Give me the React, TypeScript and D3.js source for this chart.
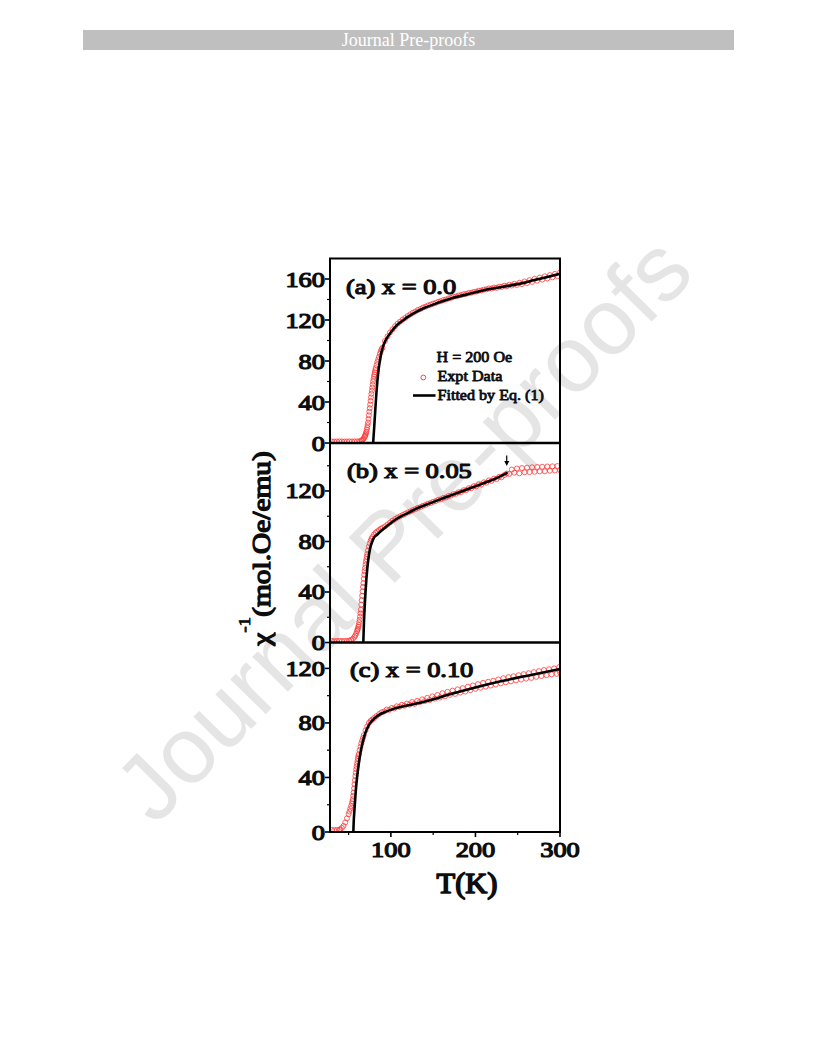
import React from 'react';
import * as d3 from 'd3';

// ---------- data ----------
const xTicks = [100, 200, 300];
const xMinorTicks = [50, 150, 250];
const yTicksA = [0, 40, 80, 120, 160];
const yMinorA = [20, 60, 100, 140];
const yTicksB = [0, 40, 80, 120];
const yMinorB = [20, 60, 100, 140];
const yTicksC = [0, 40, 80, 120];
const yMinorC = [20, 60, 100];
const panelLabels = ['(a) x = 0.0', '(b) x = 0.05', '(c) x = 0.10'];
const legendLabels = ['H = 200 Oe', 'Expt Data', 'Fitted by Eq. (1)'];

// (a) x = 0.0  [T, chi^-1]
const aData: [number, number][] = [
  [30, 1.5], [33, 1.4], [36, 1.5], [39, 1.6], [42, 1.5], [45, 1.4], [48, 1.5], [51, 1.6], [54, 1.5], [57, 1.5],
  [60, 1.6], [63, 1.8], [65, 2.2], [66, 2.8], [67, 3.5], [68, 4.5], [69, 6], [69.5, 7], [70, 8], [70.5, 9.5],
  [71, 11], [71.5, 13], [72, 15], [72.5, 17.5], [73, 20], [73.5, 23.5], [74, 27], [74.5, 30.5], [75, 34], [75.5, 37.5],
  [76, 41], [76.5, 44.5], [77, 48], [77.5, 51], [78, 54], [78.5, 57], [79, 60], [79.5, 62.5], [80, 65], [80.5, 67],
  [81, 69], [81.5, 71], [82, 73], [83, 76], [84, 79], [85, 81.5], [86, 84], [87, 87], [88, 89.5], [89, 91.5],
  [90, 93], [93, 99.5], [96, 104], [99, 107.8], [102, 111], [105, 114], [108, 116.5], [111, 118.5], [114, 120.5], [117, 122],
  [120, 124], [123, 125.5], [126, 127], [129, 128.3], [132, 129.8], [135, 130.8], [138, 132.2], [141, 133], [144, 134.2], [147, 135],
  [150, 136], [153, 136.7], [156, 137.8], [159, 138.4], [162, 139.4], [165, 140], [168, 141], [171, 141.6], [174, 142.6], [177, 143],
  [180, 143.9], [183, 144.3], [186, 145.1], [189, 145.5], [192, 146.3], [195, 146.6], [198, 147.4], [201, 147.7], [204, 148.6], [207, 148.8],
  [210, 149.7], [213, 149.9], [216, 150.8], [219, 150.7], [222, 151.6], [225, 151.4], [228, 152.5], [231, 152.2], [234, 153.5], [237, 152.9],
  [240, 154.4], [243, 153.6], [246, 155.3], [249, 154.2], [252, 156.4], [255, 155], [258, 157.6], [261, 156], [264, 158.9], [267, 157.2],
  [270, 160.2], [273, 158.3], [276, 161.4], [279, 159.4], [282, 162.6], [285, 160.5], [288, 163.8], [291, 161.6], [294, 165], [297, 162.8],
  [300, 166.4],
];
const aFit: [number, number][] = [
  [79, 0], [80, 12], [81, 25], [82, 38], [83, 50], [84, 60], [85, 68], [86, 75], [87, 80], [88, 85],
  [89, 89], [90, 92], [92, 97], [95, 102], [100, 108], [105, 113], [110, 117], [115, 120], [120, 123], [130, 128],
  [140, 132], [150, 135], [160, 138], [175, 142], [190, 145], [200, 147], [215, 150], [230, 152], [250, 155], [270, 159],
  [285, 162], [300, 165],
];

// (b) x = 0.05
const bData: [number, number][] = [
  [30, 1.2], [33, 1.1], [36, 1.2], [39, 1.3], [42, 1.2], [45, 1.2], [48, 1.3], [51, 1.5], [53, 2], [55, 3],
  [57, 4.5], [58, 5.5], [59, 7], [60, 9], [60.5, 10], [61, 11], [61.5, 12.5], [62, 14], [62.5, 16], [63, 18],
  [63.5, 20.5], [64, 23], [64.5, 26], [65, 30], [65.5, 33.5], [66, 37], [66.5, 40.5], [67, 44], [67.5, 47], [68, 50.5],
  [68.5, 53.5], [69, 56.5], [69.5, 59], [70, 61.5], [70.5, 64], [71, 66], [71.5, 68], [72, 70], [73, 73], [74, 76],
  [75, 78.5], [76, 80.5], [77, 82], [78, 83.5], [80, 85.5], [82, 87], [84, 88], [86, 89], [88, 90], [90, 90.8],
  [93, 92], [96, 93.5], [99, 95], [102, 96.5], [105, 97.8], [108, 99], [111, 100], [114, 101], [117, 102], [120, 103],
  [123, 103.8], [126, 104.8], [129, 105.6], [132, 106.6], [135, 107.3], [138, 108.3], [141, 109], [144, 110], [147, 110.5], [150, 111.5],
  [153, 112], [156, 113], [159, 113.4], [162, 114.5], [165, 114.8], [168, 116], [171, 116.3], [174, 117.5], [177, 117.8], [180, 119],
  [183, 119.2], [186, 120.6], [189, 120.7], [192, 122.2], [195, 122.2], [198, 123.8], [201, 123.7], [204, 125.4], [207, 125.1], [210, 126.9],
  [213, 126.6], [216, 128.4], [219, 128], [222, 129.8], [225, 129.4], [228, 131.2], [231, 130.9], [234, 132.6], [237, 133.8], [240, 133.5],
  [243, 137], [246, 134.5], [249, 137.8], [252, 134], [255, 138.2], [258, 134.8], [261, 138.5], [264, 135], [267, 138.8], [270, 135.2],
  [273, 139], [276, 135.5], [279, 139.2], [282, 135.6], [285, 139.4], [288, 136], [291, 139.5], [294, 136.2], [297, 139.8], [300, 136.5],
];
const bFit: [number, number][] = [
  [67.4, 0], [68, 13], [69, 28], [70, 40], [71, 50], [72, 58], [73, 64], [74, 69], [75, 73], [76, 76],
  [78, 80], [80, 83], [84, 85.5], [87, 87.5], [95, 92], [107, 98], [120, 102.5], [130, 106], [145, 110], [165, 115],
  [185, 120], [209, 126], [225, 130.2], [238, 134.5],
];
const bArrowT = 237;

// (c) x = 0.10
const cData: [number, number][] = [
  [30, 1.5], [33, 1.4], [36, 1.5], [39, 1.6], [40, 2], [42, 3], [44, 4.5], [46, 7], [48, 10], [50, 13],
  [51, 15], [52, 17], [53, 19], [54, 21], [54.5, 22.5], [55, 24], [55.5, 26.5], [56, 29], [56.5, 32], [57, 35],
  [57.5, 38], [58, 41], [58.5, 43.5], [59, 46], [59.5, 48], [60, 50], [60.5, 52], [61, 54], [61.5, 55.5], [62, 57],
  [63, 60], [64, 62.5], [65, 65], [66, 67], [67, 69], [68, 71], [70, 74.5], [72, 77.5], [74, 80], [76, 81.5],
  [78, 82.5], [80, 83.5], [83, 85], [86, 86.5], [89, 87.8], [92, 88.4], [95, 89.8], [98, 89.6], [101, 91], [104, 90.6],
  [107, 92.2], [110, 91.8], [113, 93.3], [116, 92.6], [119, 94.2], [122, 93.4], [125, 95.3], [128, 94], [131, 96.2], [134, 95.2],
  [137, 97.3], [140, 96], [143, 98.4], [146, 96.8], [149, 99.5], [152, 97.8], [155, 100.5], [158, 98.6], [161, 101.8], [164, 99.5],
  [167, 102.8], [170, 100.6], [173, 103.7], [176, 101.3], [179, 104.6], [182, 102.2], [185, 105.5], [188, 103], [191, 106.6], [194, 104],
  [197, 107.5], [200, 105], [203, 108.5], [206, 105.8], [209, 109.4], [212, 106.6], [215, 110.2], [218, 107.4], [221, 111], [224, 108.2],
  [227, 111.9], [230, 109], [233, 112.8], [236, 109.8], [239, 113.6], [242, 110.5], [245, 114.3], [248, 111.2], [251, 115], [254, 111.8],
  [257, 115.8], [260, 112.5], [263, 116.5], [266, 113], [269, 117.3], [272, 113.8], [275, 118], [278, 114.4], [281, 118.8], [284, 115],
  [287, 119.4], [290, 115.6], [293, 120], [296, 116], [299, 121], [300, 117],
];
const cFit: [number, number][] = [
  [55.6, 0], [56, 7], [57, 17], [58, 26], [59, 34], [60, 40], [62, 50], [64, 58], [66, 64], [68, 69],
  [70, 73], [72, 76], [75, 79.5], [80, 83], [85, 85.5], [95, 88.5], [110, 91.5], [125, 93.5], [145, 96.5], [170, 101],
  [200, 106], [230, 110.5], [260, 114.5], [300, 119.5],
];

// ---------- drawing ----------
const SERIF = "'Liberation Serif', 'Times New Roman', Times, serif";
const INK = '#0d0d0d';

function SText(props: { x: number; y: number; size: number; anchor?: string; sx?: number; children: React.ReactNode; sw?: number }) {
  const { x, y, size, anchor = 'start', sx = 1.2, children, sw } = props;
  const strokeW = sw ?? size * 0.055;
  return (
    <text
      transform={`translate(${x},${y}) scale(${sx},1)`}
      textAnchor={anchor}
      fontSize={size}
      fontFamily={SERIF}
      fill={INK}
      stroke={INK}
      strokeWidth={strokeW}
      strokeLinejoin="round"
    >
      {children}
    </text>
  );
}

export default function App() {
  const left = 330;
  const right = 560;
  const x = d3.scaleLinear().domain([28, 300]).range([left, right]);

  const panels = [
    { id: 'a', label: panelLabels[0], data: aData, fit: aFit, yMax: 180, top: 258.5, bottom: 443, ticks: yTicksA, minor: yMinorA, lx: 346, ly: 293.5 },
    { id: 'b', label: panelLabels[1], data: bData, fit: bFit, yMax: 158, top: 443, bottom: 642.5, ticks: yTicksB, minor: yMinorB, lx: 347, ly: 478 },
    { id: 'c', label: panelLabels[2], data: cData, fit: cFit, yMax: 139, top: 642.5, bottom: 832, ticks: yTicksC, minor: yMinorC, lx: 350, ly: 677 },
  ];

  const dataColor = '#ff3030';

  return (
    <svg width={816} height={1056} style={{ position: 'absolute', left: 0, top: 0, background: '#fff' }}>
      <rect x={0} y={0} width={816} height={1056} fill="#fff" />
      {/* header */}
      <rect x={83} y={30} width={651} height={20} fill="#bfbfbf" />
      <text x={408.5} y={46} textAnchor="middle" fontSize={18} fontFamily={SERIF} fill="#fff">
        Journal Pre-proofs
      </text>

      {/* watermark */}
      <text
        transform="translate(426,551) rotate(-45.5)"
        textAnchor="middle"
        fontSize={94}
        fontFamily="'Liberation Sans', Arial, Helvetica, sans-serif"
        fill="#e5e5e5"
      >
        Journal Pre-proofs
      </text>

      <defs>
        {panels.map((p) => (
          <clipPath id={`clip-${p.id}`} key={p.id}>
            <rect x={left} y={p.top} width={right - left} height={p.bottom - p.top} />
          </clipPath>
        ))}
      </defs>

      {panels.map((p) => {
        const y = d3.scaleLinear().domain([0, p.yMax]).range([p.bottom, p.top]);
        const line = d3
          .line<[number, number]>()
          .x((d) => x(d[0]))
          .y((d) => y(d[1]))
          .curve(d3.curveMonotoneX);
        return (
          <g key={p.id}>
            <g clipPath={`url(#clip-${p.id})`}>
              {p.data.map((d, i) => (
                <circle key={i} cx={x(d[0])} cy={y(d[1])} r={2.5} fill="none" stroke={dataColor} strokeWidth={0.75} />
              ))}
              <path d={line(p.fit) || ''} fill="none" stroke="#000" strokeWidth={2.6} />
            </g>
            {/* y ticks */}
            {p.ticks.map((t) => (
              <g key={`t${t}`}>
                <line x1={left - 5} x2={left} y1={y(t)} y2={y(t)} stroke="#000" strokeWidth={1.6} />
                <SText x={left - 5} y={y(t) + 7.5} size={22} anchor="end">
                  {t}
                </SText>
              </g>
            ))}
            {p.minor.map((t) => (
              <line key={`m${t}`} x1={left - 3} x2={left} y1={y(t)} y2={y(t)} stroke="#000" strokeWidth={1.2} />
            ))}
            <SText x={p.lx} y={p.ly} size={22}>
              {p.label}
            </SText>
          </g>
        );
      })}

      {/* arrow in panel (b) */}
      {(() => {
        const ax = x(bArrowT);
        return (
          <g>
            <line x1={ax} x2={ax} y1={455.5} y2={462} stroke="#000" strokeWidth={1.2} />
            <path d={`M${ax - 2.5},461 L${ax + 2.5},461 L${ax},466 Z`} fill="#000" />
          </g>
        );
      })()}

      {/* legend in panel (a) */}
      <SText x={436.5} y={361.5} size={14} sx={1.15}>
        {legendLabels[0]}
      </SText>
      <circle cx={423.3} cy={377.5} r={2.4} fill="none" stroke={dataColor} strokeWidth={0.9} />
      <SText x={437.5} y={380.5} size={14} sx={1.15}>
        {legendLabels[1]}
      </SText>
      <line x1={413} x2={435.5} y1={395.5} y2={395.5} stroke="#000" strokeWidth={2.6} />
      <SText x={437.5} y={399.5} size={14} sx={1.15}>
        {legendLabels[2]}
      </SText>

      {/* frames */}
      <rect x={left} y={258.5} width={right - left} height={832 - 258.5} fill="none" stroke="#000" strokeWidth={2} />
      <line x1={left} x2={right} y1={443} y2={443} stroke="#000" strokeWidth={2.5} />
      <line x1={left} x2={right} y1={642.5} y2={642.5} stroke="#000" strokeWidth={2.5} />

      {/* x axis */}
      {xTicks.map((t) => (
        <g key={`x${t}`}>
          <line x1={x(t)} x2={x(t)} y1={832} y2={837} stroke="#000" strokeWidth={1.6} />
          <SText x={x(t)} y={857} size={22} anchor="middle">
            {t}
          </SText>
        </g>
      ))}
      {xMinorTicks.map((t) => (
        <line key={`xm${t}`} x1={x(t)} x2={x(t)} y1={832} y2={835} stroke="#000" strokeWidth={1.2} />
      ))}
      <SText x={467} y={893} size={29} anchor="middle" sx={1.05}>
        T(K)
      </SText>

      {/* y axis label */}
      <text
        transform="translate(270,548.5) rotate(-90) scale(1.2,1)"
        textAnchor="middle"
        fontSize={24.5}
        fontFamily={SERIF}
        fill={INK}
        stroke={INK}
        strokeWidth={1.3}
        strokeLinejoin="round"
      >
        <tspan>χ</tspan>
        <tspan fontSize={16} dy={-20} strokeWidth={0.8}>-1</tspan>
        <tspan dy={20}>(mol.Oe/emu)</tspan>
      </text>
    </svg>
  );
}
